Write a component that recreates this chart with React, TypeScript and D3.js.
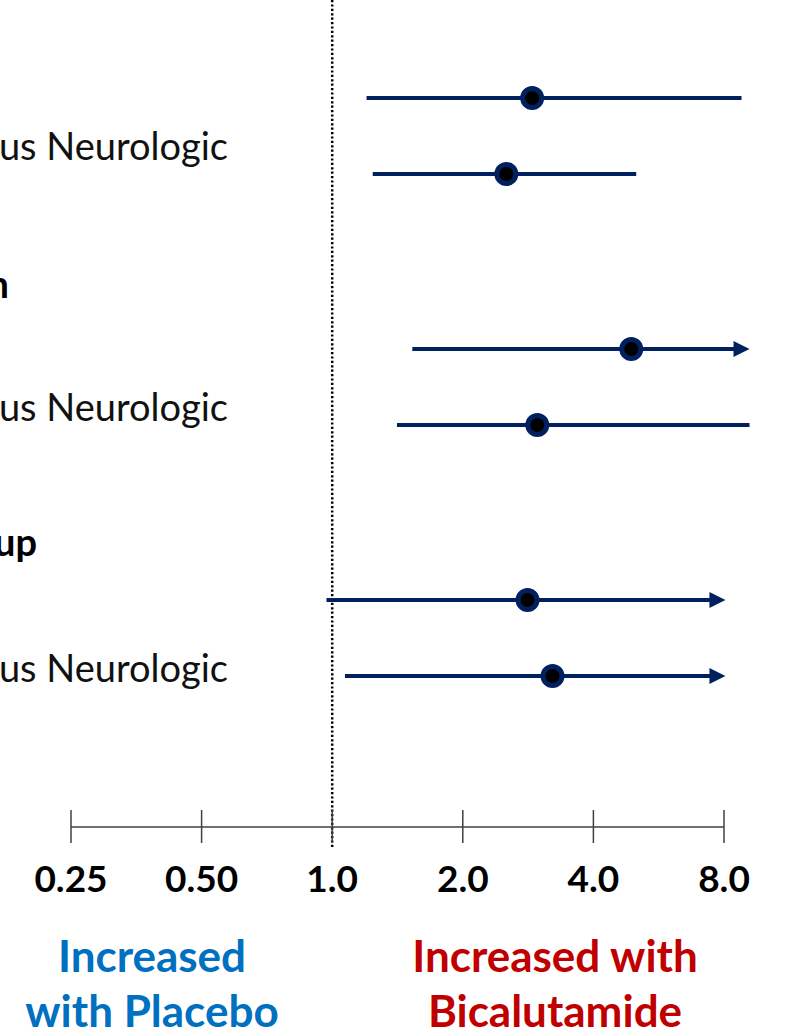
import React, { useEffect, useRef } from 'react'
import * as d3 from 'd3'

// hazard ratios (x axis is log2)
const groupHeaders = ['', 'n', 'up']
const rowLabels = ['us Neurologic', 'us Neurologic', 'us Neurologic']
const rowGroup = [0, 0, 1, 1, 2, 2]
const rowInGroup = [0, 1, 0, 1, 0, 1]
const pointValues = [2.89, 2.52, 4.89, 2.97, 2.82, 3.22]
const lowerValues = [1.2, 1.24, 1.53, 1.41, 0.97, 1.07]
const upperValues = [8.78, 5.02, 9.16, 9.16, 8.06, 8.06]
const upperOpen = [false, false, true, false, true, true]
const tickValues = [0.25, 0.5, 1, 2, 4, 8]
const tickLabels = ['0.25', '0.50', '1.0', '2.0', '4.0', '8.0']
const leftNote = ['Increased', 'with Placebo']
const rightNote = ['Increased with', 'Bicalutamide']

const W = 785
const H = 1033
const NAVY = '#002060'
const FONT = 'Lato, "Open Sans", sans-serif'

export default function App() {
	const ref = useRef<SVGSVGElement>(null)

	useEffect(() => {
		const svg = d3.select(ref.current)
		svg.selectAll('*').remove()

		const x = d3.scaleLog().base(2).domain([0.25, 8]).range([71, 724])
		const groupY = d3.scaleLinear().domain([0, 2]).range([98, 600])
		const labelY = d3.scaleLinear().domain([0, 2]).range([160, 682])
		const headerY = d3.scaleLinear().domain([1, 2]).range([298, 556])
		const rowStep = 76
		const rowY = (i: number) => groupY(rowGroup[i]) + rowInGroup[i] * rowStep

		// reference line at 1.0
		svg.append('line')
			.attr('x1', x(1)).attr('x2', x(1))
			.attr('y1', 0).attr('y2', 849)
			.attr('stroke', '#000')
			.attr('stroke-width', 2.5)
			.attr('stroke-dasharray', '2.2,2.2')

		// labels on the left, cut by the slide edge
		svg.selectAll('text.header')
			.data(groupHeaders)
			.enter()
			.append('text')
			.attr('class', 'header')
			.attr('x', (d, i) => (i === 1 ? 9 : 37))
			.attr('y', (d, i) => headerY(i))
			.attr('text-anchor', 'end')
			.attr('font-family', FONT)
			.attr('font-weight', 'bold')
			.attr('font-size', 38)
			.text(d => d)

		svg.selectAll('text.rowlabel')
			.data(rowLabels)
			.enter()
			.append('text')
			.attr('class', 'rowlabel')
			.attr('x', 228)
			.attr('y', (d, i) => labelY(i))
			.attr('text-anchor', 'end')
			.attr('font-family', FONT)
			.attr('font-size', 38)
			.attr('fill', '#111')
			.text(d => d)

		// confidence intervals
		const rows = pointValues.map((p, i) => ({
			p, lo: lowerValues[i], hi: upperValues[i], open: upperOpen[i], y: rowY(i)
		}))
		const ci = svg.append('g')
		ci.selectAll('line')
			.data(rows)
			.enter()
			.append('line')
			.attr('x1', d => x(d.lo))
			.attr('x2', d => (d.open ? x(d.hi) - 14 : x(d.hi)))
			.attr('y1', d => d.y)
			.attr('y2', d => d.y)
			.attr('stroke', NAVY)
			.attr('stroke-width', 4)
		ci.selectAll('path')
			.data(rows.filter(d => d.open))
			.enter()
			.append('path')
			.attr('d', d => {
				const t = x(d.hi)
				return 'M' + t + ',' + d.y + 'L' + (t - 16) + ',' + (d.y - 8) + 'L' + (t - 16) + ',' + (d.y + 8) + 'Z'
			})
			.attr('fill', NAVY)
		ci.selectAll('circle')
			.data(rows)
			.enter()
			.append('circle')
			.attr('cx', d => x(d.p))
			.attr('cy', d => d.y)
			.attr('r', 9.5)
			.attr('fill', '#000')
			.attr('stroke', NAVY)
			.attr('stroke-width', 5)

		// axis
		const axisY = 827
		const axis = svg.append('g')
		axis.append('line')
			.attr('x1', x(0.25)).attr('x2', x(8))
			.attr('y1', axisY).attr('y2', axisY)
			.attr('stroke', '#404040')
			.attr('stroke-width', 1.5)
		axis.selectAll('line.tick')
			.data(tickValues)
			.enter()
			.append('line')
			.attr('class', 'tick')
			.attr('x1', d => x(d)).attr('x2', d => x(d))
			.attr('y1', axisY - 17).attr('y2', axisY + 16)
			.attr('stroke', '#404040')
			.attr('stroke-width', 1.5)
		axis.selectAll('text')
			.data(tickValues)
			.enter()
			.append('text')
			.attr('x', d => x(d))
			.attr('y', 892)
			.attr('text-anchor', 'middle')
			.attr('font-family', FONT)
			.attr('font-weight', 'bold')
			.attr('font-size', 37)
			.text((d, i) => tickLabels[i])

		// direction notes
		const note = (lines: string[], cx: number, color: string) => {
			svg.append('g').selectAll('text')
				.data(lines)
				.enter()
				.append('text')
				.attr('x', cx)
				.attr('y', (d, i) => 972 + i * 55)
				.attr('text-anchor', 'middle')
				.attr('font-family', FONT)
				.attr('font-weight', 'bold')
				.attr('font-size', 44)
				.attr('fill', color)
				.text(d => d)
		}
		note(leftNote, 152, '#0070C0')
		note(rightNote, 555, '#C00000')
	}, [])

	return (
		<svg ref={ref} width={W} height={H}
			style={{ position: 'absolute', left: 0, top: 0, background: '#fff' }} />
	)
}
